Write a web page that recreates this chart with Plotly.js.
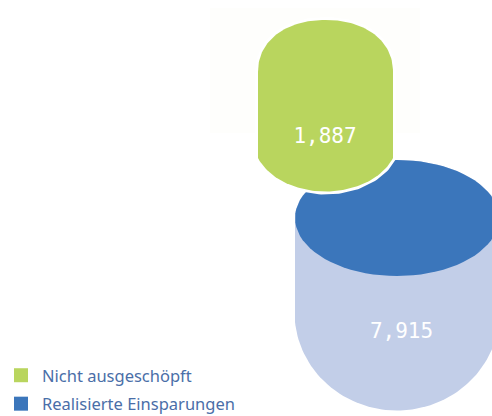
<!DOCTYPE html>
<html><head><meta charset="utf-8">
<script src="https://cdn.plot.ly/plotly-3.0.1.min.js"></script>
<style>html,body{margin:0;padding:0;background:#fff}</style></head>
<body><div id="chart" style="width:492px;height:416px"></div>
<script>
const categories = ["Nicht ausgeschöpft", "Realisierte Einsparungen"];
const values = [1887, 7915];
const capColors = ["#b9d55e", "#3b76bb"];
const bodyColors = ["#b9d55e", "#c2cee8"];

// Drawing geometry of each cylinder, on a page-sized axis pair
const cx = [325.5, 397];
const rx = [67.5, 102];
const capCentre = [72, 218];
const capRy = [52, 58];
const capPower = [2.15, 2];
const baseY = [158, 322];
const baseRy = [33.5, 88.5];
const baseSpread = [1.067, 1.005];

function arc(cxv, cyv, a, b, from, to, n) {
  const xs = [], ys = [];
  for (let i = 0; i <= 80; i++) {
    const t = (from + (to - from) * i / 80) * Math.PI / 180;
    const co = Math.cos(t), si = Math.sin(t);
    xs.push(cxv + a * Math.sign(co) * Math.pow(Math.abs(co), 2 / n));
    ys.push(cyv + b * Math.sign(si) * Math.pow(Math.abs(si), 2 / n));
  }
  return [xs, ys];
}
function outline(i) {
  const top = arc(cx[i], capCentre[i], rx[i], capRy[i], 180, 360, capPower[i]);
  const s = baseSpread[i];
  const sinA = Math.sqrt(1 - 1 / (s * s));
  const ang = Math.asin(sinA) * 180 / Math.PI;
  const ry = baseRy[i] / (1 - sinA);
  const bot = arc(cx[i], baseY[i] - ry * sinA, rx[i] * s, ry, ang, 180 - ang, 2);
  return { x: top[0].concat(bot[0], [top[0][0]]), y: top[1].concat(bot[1], [top[1][0]]) };
}
function cap(i) {
  const c = arc(cx[i], capCentre[i], rx[i], capRy[i], 0, 360, capPower[i]);
  return { x: c[0], y: c[1] };
}
const hidden = { visible: false, fixedrange: true };
const b = outline(1), c = cap(1), g = outline(0);
const plain = { mode: "lines", hoverinfo: "skip", showlegend: false };
const traces = [
  { ...plain, x: b.x, y: b.y, fill: "toself", fillcolor: bodyColors[1], line: { width: 0, color: bodyColors[1] } },
  { ...plain, x: c.x, y: c.y, fill: "toself", fillcolor: capColors[1], line: { width: 0, color: capColors[1] } },
  { ...plain, x: g.x, y: g.y, line: { width: 6, color: "#ffffff" } },
  { ...plain, x: g.x, y: g.y, fill: "toself", fillcolor: bodyColors[0], line: { width: 0, color: bodyColors[0] } },
  { mode: "text", x: [325, 401.5], y: [138, 333], text: values.map(v => v.toLocaleString("en-US")),
    textfont: { family: "DejaVu Sans Mono", size: 21, color: "#ffffff" }, textposition: "middle center",
    hoverinfo: "skip", showlegend: false },
  ...categories.map((n, i) => ({
    name: n, x: [null], y: [null], mode: "markers", legendgroup: "g" + i,
    marker: { symbol: "square", size: 14, color: capColors[i] }
  }))
];
const layout = {
  width: 492, height: 416, margin: { l: 0, r: 0, t: 0, b: 0 },
  paper_bgcolor: "#ffffff", plot_bgcolor: "rgba(0,0,0,0)",
  xaxis: { ...hidden, range: [0, 492] },
  yaxis: { ...hidden, range: [416, 0] },
  shapes: [
    { type: "rect", layer: "below", x0: 210, x1: 420, y0: 8, y1: 133, fillcolor: "#fefefc", line: { width: 0 } }
  ],
  showlegend: true,
  legend: {
    x: 0, y: 0, xanchor: "left", yanchor: "bottom", bgcolor: "rgba(0,0,0,0)",
    traceorder: "grouped", tracegroupgap: 4, itemwidth: 32, borderwidth: 0,
    font: { family: "Noto Sans", size: 16.5, color: "#4a6ea8" }
  }
};
Plotly.newPlot("chart", traces, layout, { displayModeBar: false, staticPlot: true }).then(() => {
  // nudge the legend group down to the reference's baseline
  const lg = document.querySelector(".legend");
  const m = /translate\(([-\d.]+),\s*([-\d.]+)\)/.exec(lg.getAttribute("transform"));
  lg.setAttribute("transform", "translate(" + m[1] + "," + (parseFloat(m[2]) + 5) + ")");
});
</script></body></html>
